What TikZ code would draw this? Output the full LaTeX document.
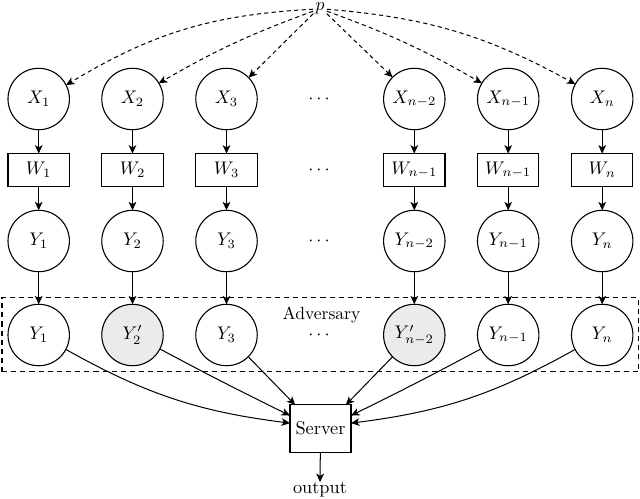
\documentclass[tikz,border=0pt]{standalone}
\usetikzlibrary{arrows.meta}
\definecolor{shade}{gray}{0.92}
\tikzset{
  every node/.style={inner sep=0pt,outer sep=0pt},
  circ/.style={circle,draw,line width=0.6pt,minimum size=33.6pt},
  shaded/.style={circ,fill=shade},
  box/.style={rectangle,draw,line width=0.6pt,minimum width=33.6pt,minimum height=18pt},
  arr/.style={-{Stealth[length=4.6pt,width=4.2pt,inset=1.2pt]},line width=0.55pt},
  dasharr/.style={arr,dash pattern=on 2.3pt off 1.8pt},
}
\begin{document}
\begin{tikzpicture}[x=0.547pt,y=-0.547pt]
\useasboundingbox (0,0) rectangle (640,498);
\node[inner sep=1.2pt] (p) at (320,8) {$p$};
\foreach \n/\x/\sx/\sw/\sy in {
  1/38.7/X_1/W_1/Y_1,
  2/132.5/X_2/W_2/Y_2,
  3/226.5/X_3/W_3/Y_3,
  4/414.3/X_{n-2}/W_{n-1}/Y_{n-2},
  5/508.2/X_{n-1}/W_{n-1}/Y_{n-1},
  6/602.2/X_n/W_n/Y_n}{
  \node[circ] (X\n) at (\x,99) {$\sx$};
  \node[box] (W\n) at (\x,170) {$\sw$};
  \node[circ] (Y\n) at (\x,241) {$\sy$};
  \draw[arr] (X\n) -- (W\n);
  \draw[arr] (W\n) -- (Y\n);
}
\foreach \n/\x/\sz/\st in {1/38.7/Y_1/circ,2/132.5/Y'_2/shaded,3/226.5/Y_3/circ,4/414.3/Y'_{n-2}/shaded,5/508.2/Y_{n-1}/circ,6/602.2/Y_n/circ}{
  \node[\st] (Z\n) at (\x,335) {$\sz$};
  \draw[arr] (Y\n) -- (Z\n);
}
\node (d1) at (319,99) {$\cdots$};
\node (d2) at (319,170) {$\cdots$};
\node (d3) at (319,241) {$\cdots$};
\node (d4) at (319,335) {$\cdots$};
\node[scale=0.96] (adv) at (321.5,315.5) {Adversary};
\node[draw,dash pattern=on 2.8pt off 2.2pt,line width=0.6pt,minimum width=348.2pt,minimum height=40.6pt] (advbox) at (320.3,334.8) {};
\node[box,minimum width=33.4pt,minimum height=25.8pt] (S) at (320.5,428.5) {Server};
\node (out) at (320,489.5) {output};
\draw[arr] (S) -- (out);
\draw[dasharr] (p.190) to[bend right=14] (X1.27);
\draw[dasharr] (p.205) to[bend right=5] (X2.31);
\draw[dasharr] (p.220) -- (X3.44);
\draw[dasharr] (p.-40) -- (X4.135);
\draw[dasharr] (p.-25) to[bend left=5] (X5.149);
\draw[dasharr] (p.-10) to[bend left=12] (X6.151);
\draw[arr] (Z1.-28) to[bend right=11] (S.170);
\draw[arr] (Z2.-27) to[bend right=1] (S.157);
\draw[arr] (Z3.-45) -- (S.137);
\draw[arr] (Z4.-135) -- (S.43);
\draw[arr] (Z5.-153) to[bend left=1] (S.23);
\draw[arr] (Z6.-152) to[bend left=11] (S.10);
\end{tikzpicture}
\end{document}
